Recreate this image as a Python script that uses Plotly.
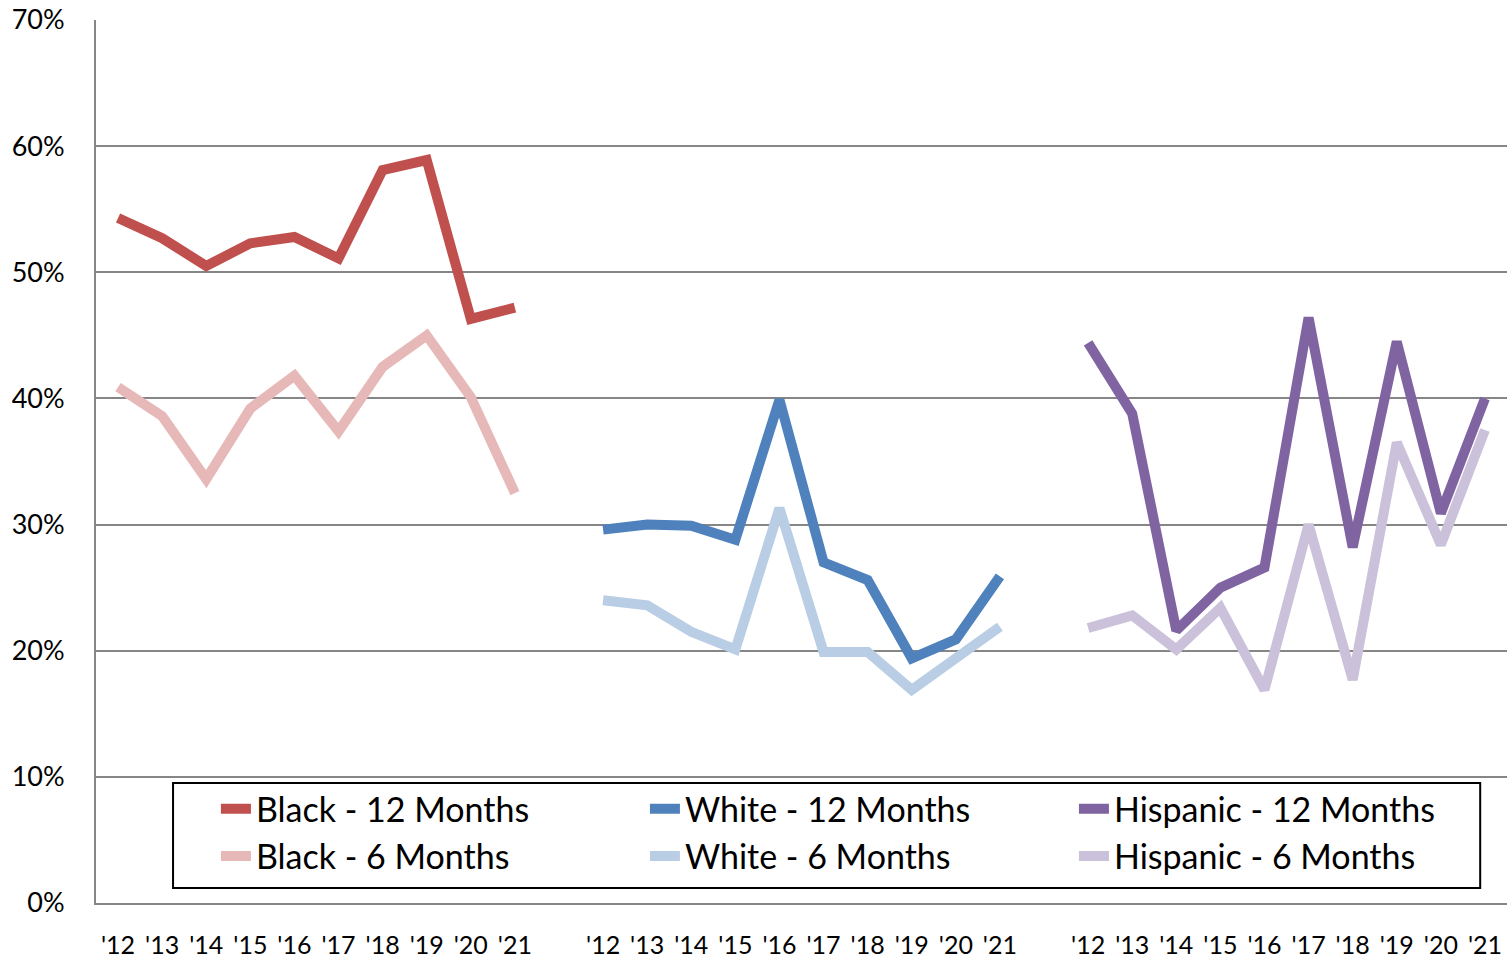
import plotly.graph_objects as go

YEARS = ["'12", "'13", "'14", "'15", "'16", "'17", "'18", "'19", "'20", "'21"]
GROUPS = ["Black", "White", "Hispanic"]

black_12 = [54.3, 52.7, 50.5, 52.3, 52.8, 51.1, 58.1, 58.9, 46.3, 47.2]
black_6 = [40.9, 38.6, 33.6, 39.2, 41.8, 37.4, 42.5, 45.0, 40.1, 32.5]
white_12 = [29.6, 30.0, 29.9, 28.8, 39.9, 27.0, 25.6, 19.4, 20.9, 25.9]
white_6 = [24.0, 23.6, 21.5, 20.1, 31.3, 19.9, 19.9, 16.9, 19.4, 21.9]
hispanic_12 = [44.4, 38.8, 21.6, 25.0, 26.6, 46.4, 28.2, 44.5, 30.9, 40.0]
hispanic_6 = [21.8, 22.8, 20.1, 23.4, 16.9, 30.0, 17.7, 36.5, 28.4, 37.5]

series_12 = [black_12, white_12, hispanic_12]
series_6 = [black_6, white_6, hispanic_6]
colors_12 = ["#C0504D", "#4F81BD", "#8064A2"]
colors_6 = ["#E6B9B8", "#B9CDE5", "#CCC1DA"]

FONT = "Lato, 'Liberation Sans', sans-serif"

# each group gets its own block of 10 slots, one empty slot between blocks
step = len(YEARS) + 1
tickvals, ticktext = [], []
for g in range(len(GROUPS)):
    for i, yr in enumerate(YEARS):
        tickvals.append(g * step + i)
        ticktext.append(yr)

fig = go.Figure()
# 6-month lines drawn first so the 12-month lines sit on top;
# legendrank keeps the legend as 12-month row then 6-month row
for label, series, colors, rank0 in [("6 Months", series_6, colors_6, 4),
                                     ("12 Months", series_12, colors_12, 1)]:
    for g, name in enumerate(GROUPS):
        fig.add_trace(go.Scatter(
            x=[g * step + i for i in range(len(YEARS))],
            y=[v / 100 for v in series[g]],
            mode="lines",
            line=dict(color=colors[g], width=10),
            name=f"{name} - {label}",
            legendrank=rank0 + g,
        ))

# legend frame drawn as a shape so the entries can sit indented inside it
fig.add_shape(
    type="rect", xref="paper", yref="paper",
    x0=0.0546, x1=0.981, y0=0.017, y1=0.136,
    line=dict(color="black", width=2), fillcolor="white", layer="above",
)

fig.update_layout(
    width=1511, height=962,
    margin=dict(l=96, r=4, t=20, b=59),
    plot_bgcolor="white",
    paper_bgcolor="white",
    font=dict(family=FONT, color="black"),
    showlegend=True,
    legend=dict(
        orientation="h",
        x=0.085, y=0.139, xanchor="left", yanchor="top",
        bgcolor="rgba(0,0,0,0)", borderwidth=0,
        font=dict(size=34, family=FONT),
        entrywidth=384,
        traceorder="normal",
    ),
)
fig.update_xaxes(
    range=[-0.5, len(GROUPS) * step - 1.5],
    tickvals=tickvals, ticktext=ticktext,
    tickfont=dict(size=25), ticklabelstandoff=19,
    showgrid=False, zeroline=False, automargin=False,
    showline=True, linecolor="#868686", linewidth=2,
)
fig.update_yaxes(
    range=[0, 0.7], dtick=0.1, tickformat=".0%",
    tickfont=dict(size=27), ticklabelstandoff=24,
    showgrid=True, gridcolor="#868686", gridwidth=1.5,
    zeroline=False, automargin=False,
    showline=True, linecolor="#868686", linewidth=2,
)

# the page's default body margin would push the figure off the window
fig.write_html(
    "out.html",
    config={"displayModeBar": False},
    post_script="document.body.style.margin='0';"
                "document.body.style.overflow='hidden';",
)
